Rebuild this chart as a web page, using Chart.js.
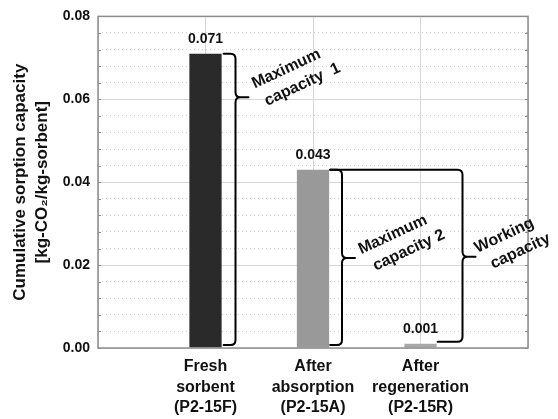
<!DOCTYPE html>
<html>
<head>
<meta charset="utf-8">
<script src="https://cdn.jsdelivr.net/npm/chart.js@4.4.1/dist/chart.umd.min.js"></script>
<style>
  html, body { margin: 0; padding: 0; background: #fff; }
  #wrap { width: 558px; height: 419px; position: relative; }
</style>
</head>
<body>
<div id="wrap"><canvas id="chartSorcion"></canvas></div>
<script>
// --- datos del grafico ---
const categorias = [
  ['Fresh', 'sorbent', '(P2-15F)'],
  ['After', 'absorption', '(P2-15A)'],
  ['After', 'regeneration', '(P2-15R)']
];
const capacidades = [0.071, 0.043, 0.001];
const etiquetasValor = ['0.071', '0.043', '0.001'];
const coloresBarra = ['#2a2a2a', '#999999', '#a8a8a8'];
const ticksY = [0.00, 0.02, 0.04, 0.06, 0.08];
const tituloY = ['Cumulative sorption capacity', '[kg-CO\u2082/kg-sorbent]'];

// llaves: texto, extremos (en valores de capacidad) y altura de la punta
const llaves = [
  { texto: ['Maximum', 'capacity  1'], arriba: 0.071, abajo: 0.000, punta: 0.0605 },
  { texto: ['Maximum', 'capacity 2'], arriba: 0.043, abajo: 0.000, punta: 0.0217 },
  { texto: ['Working', 'capacity'], arriba: 0.043, abajo: 0.001, punta: 0.022 }
];

const FUENTE = 'Arial, "Liberation Sans", Helvetica, sans-serif';

// la escala de categorias lleva un hueco a cada lado
const etiquetasX = ['', ...categorias, ''];
const datosX = [null, ...capacidades, null];
const coloresX = ['#000', ...coloresBarra, '#000'];

// --- plugin: marco, ticks menores, valores y llaves ---
const pluginAnotaciones = {
  id: 'anotaciones',
  afterDraw(chart) {
    const { ctx, chartArea: ca, scales } = chart;
    const x = scales.x, y = scales.y;

    // marco del area
    ctx.save();
    ctx.strokeStyle = '#8c8c8c';
    ctx.lineWidth = 1.5;
    ctx.strokeRect(ca.left, ca.top, ca.right - ca.left, ca.bottom - ca.top);

    // ticks menores hacia adentro
    ctx.lineWidth = 1;
    for (let v = 0; v <= 0.0801; v += 0.004) {
      const py = Math.round(y.getPixelForValue(v)) + 0.5;
      ctx.beginPath();
      ctx.moveTo(ca.left, py); ctx.lineTo(ca.left + 3, py);
      ctx.moveTo(ca.right, py); ctx.lineTo(ca.right - 3, py);
      ctx.stroke();
    }
    ctx.restore();

    // valores sobre las barras
    ctx.save();
    ctx.fillStyle = '#111';
    ctx.font = 'bold 14px ' + FUENTE;
    ctx.textAlign = 'center';
    ctx.textBaseline = 'bottom';
    capacidades.forEach((v, i) => {
      ctx.fillText(etiquetasValor[i], x.getPixelForValue(i + 1), y.getPixelForValue(v) - 8);
    });
    ctx.restore();

    const meta = chart.getDatasetMeta(0);
    const barra = i => meta.data[i + 1];

    ctx.save();
    ctx.strokeStyle = '#000';
    ctx.lineWidth = 2;
    ctx.lineJoin = 'round';
    ctx.lineCap = 'round';

    // llave vertical "}"
    function llave(xv, xi1, y1, xi2, y2, yt, tip) {
      const r = 5;
      ctx.beginPath();
      ctx.moveTo(xi1, y1);
      ctx.lineTo(xv - r, y1);
      ctx.quadraticCurveTo(xv, y1, xv, y1 + r);
      ctx.lineTo(xv, yt - r);
      ctx.quadraticCurveTo(xv, yt, xv + r, yt);
      ctx.lineTo(xv + tip, yt);
      ctx.moveTo(xv + r, yt);
      ctx.quadraticCurveTo(xv, yt, xv, yt + r);
      ctx.lineTo(xv, y2 - r);
      ctx.quadraticCurveTo(xv, y2, xv - r, y2);
      ctx.lineTo(xi2, y2);
      ctx.stroke();
    }

    const b0 = barra(0), b1 = barra(1), b2 = barra(2);
    const d0 = b0.x + b0.width / 2, d1 = b1.x + b1.width / 2, d2 = b2.x + b2.width / 2;

    const l1 = llaves[0];
    llave(x.getPixelForValue(1) + 30, d0 + 2, y.getPixelForValue(l1.arriba),
      d0 + 2, y.getPixelForValue(l1.abajo) - 3, y.getPixelForValue(l1.punta), 13);
    const l2 = llaves[1];
    llave(x.getPixelForValue(2) + 29, d1 + 1, y.getPixelForValue(l2.arriba),
      d1 + 1, y.getPixelForValue(l2.abajo) - 3, y.getPixelForValue(l2.punta), 13);
    const l3 = llaves[2];
    llave(x.getPixelForValue(3) + 42, d1 + 1, y.getPixelForValue(l3.arriba),
      d2 + 1, y.getPixelForValue(l3.abajo) - 2, y.getPixelForValue(l3.punta), 13);
    ctx.restore();

    // textos girados
    ctx.save();
    ctx.fillStyle = '#111';
    ctx.font = 'bold 16px ' + FUENTE;
    ctx.textAlign = 'center';
    ctx.textBaseline = 'middle';
    const textos = [
      { t: llaves[0].texto, cx: x.getPixelForValue(1) + 89, cy: y.getPixelForValue(llaves[0].punta) - 20 },
      { t: llaves[1].texto, cx: x.getPixelForValue(2) + 88, cy: y.getPixelForValue(llaves[1].punta) - 15 },
      { t: llaves[2].texto, cx: x.getPixelForValue(3) + 92, cy: y.getPixelForValue(llaves[2].punta) - 13 }
    ];
    textos.forEach(o => {
      ctx.save();
      ctx.translate(o.cx, o.cy);
      ctx.rotate(-25 * Math.PI / 180);
      ctx.fillText(o.t[0], -4, -11);
      ctx.fillText(o.t[1], 4, 10);
      ctx.restore();
    });
    ctx.restore();
  }
};

const ctx = document.getElementById('chartSorcion').getContext('2d');
new Chart(ctx, {
  type: 'bar',
  data: {
    labels: etiquetasX,
    datasets: [{
      data: datosX,
      backgroundColor: coloresX,
      borderWidth: 0,
      barPercentage: 0.3,
      categoryPercentage: 1
    }]
  },
  options: {
    responsive: true,
    maintainAspectRatio: false,
    animation: false,
    layout: { padding: { top: 16, right: 30, left: 0, bottom: 0 } },
    plugins: {
      legend: { display: false },
      tooltip: { enabled: false }
    },
    scales: {
      x: {
        offset: false,
        grid: { color: '#d6d6d6', lineWidth: 1, drawTicks: false, offset: false },
        border: { display: false },
        ticks: {
          color: '#111',
          font: { family: FUENTE, size: 16, weight: 'bold', lineHeight: 1.3 },
          padding: 8,
          maxRotation: 0,
          autoSkip: false
        },
        afterFit(s) { s.height = 71; }
      },
      y: {
        min: 0,
        max: 0.08,
        afterBuildTicks(s) { s.ticks = ticksY.map(v => ({ value: v })); },
        grid: { color: '#d6d6d6', lineWidth: 1, drawTicks: false },
        border: { display: false },
        ticks: {
          color: '#111',
          font: { family: FUENTE, size: 14, weight: 'bold' },
          padding: 8,
          callback: v => v.toFixed(2)
        },
        title: {
          display: true,
          text: tituloY,
          color: '#111',
          font: { family: FUENTE, size: 17, weight: 'bold', lineHeight: 1.3 },
          padding: { top: 9, bottom: 0 }
        },
        afterFit(s) { s.width = 98; }
      },
      yMenor: {
        position: 'right',
        min: 0,
        max: 0.08,
        ticks: { display: false, stepSize: 0.004 },
        grid: {
          drawTicks: false,
          color: c => (Math.round(c.tick.value * 1000) % 20 === 0 ? 'rgba(0,0,0,0)' : '#cfcfcf')
        },
        border: { display: false, dash: [1, 3] },
        afterFit(s) { s.width = 0; }
      }
    }
  },
  plugins: [pluginAnotaciones]
});
</script>
</body>
</html>
